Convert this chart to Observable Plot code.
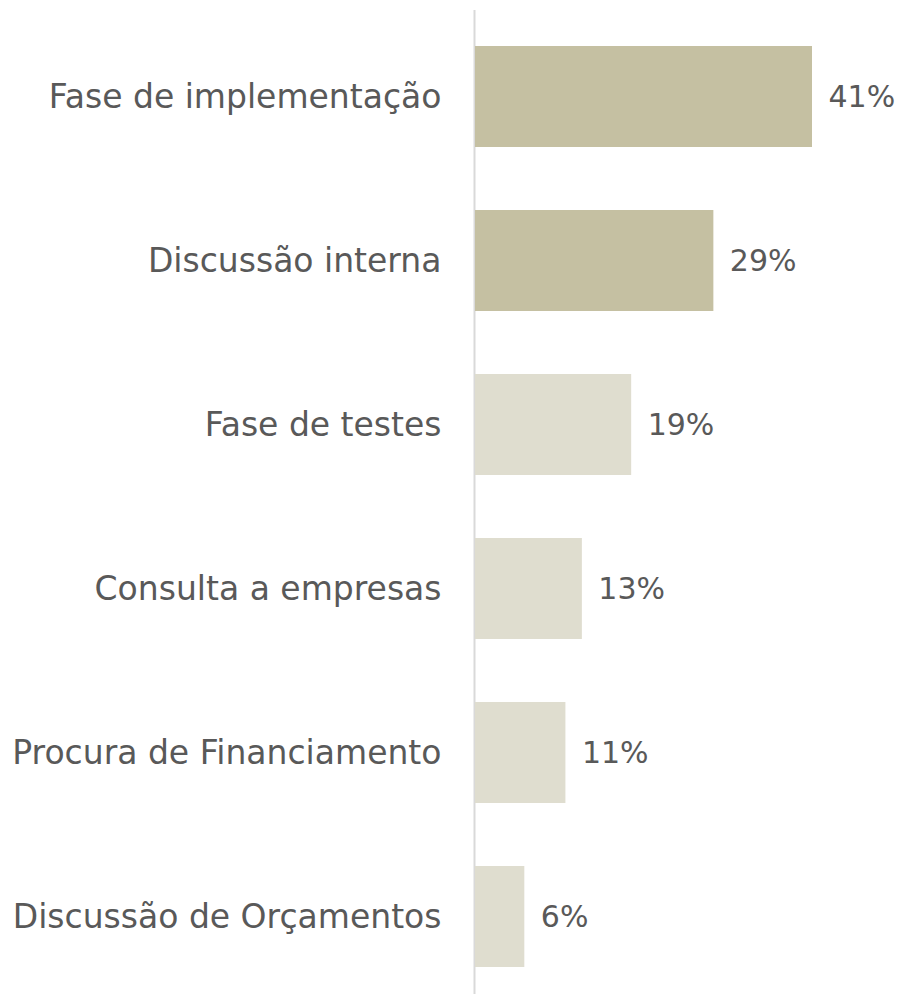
<!DOCTYPE html>
<html>
<head>
<meta charset="utf-8">
<script src="https://cdn.jsdelivr.net/npm/d3@7"></script>
<script src="https://cdn.jsdelivr.net/npm/@observablehq/plot@0.6"></script>
<style>
  html, body { margin: 0; padding: 0; background: #ffffff; }
  #chart svg { display: block; }
</style>
</head>
<body>
<div id="chart"></div>
<script>
const categories = [
  "Fase de implementação",
  "Discussão interna",
  "Fase de testes",
  "Consulta a empresas",
  "Procura de Financiamento",
  "Discussão de Orçamentos"
];
const values = [41, 29, 19, 13, 11, 6];
const labels = ["41%", "29%", "19%", "13%", "11%", "6%"];
const highlight = [true, true, false, false, false, false];

const data = categories.map((c, i) => ({category: c, value: values[i], label: labels[i], hi: highlight[i]}));

const FONT = "DejaVu Sans, sans-serif";
const TEXT = "#595959";

const chart = Plot.plot({
  width: 898,
  height: 994,
  marginTop: 10,
  marginBottom: 0,
  marginLeft: 475,
  marginRight: 0,
  style: {fontFamily: FONT, background: "#ffffff"},
  x: {domain: [0, 41], range: [475, 812], axis: null},
  y: {domain: categories, range: [12.3, 1000], paddingInner: 0.385, paddingOuter: 0.1925, axis: null},
  marks: [
    Plot.ruleX([0], {x: 0, stroke: "#d9d9d9", strokeWidth: 2, dx: -1}),
    Plot.barX(data, {
      x: "value",
      y: "category",
      fill: d => d.hi ? "#c5c0a2" : "#dfddcf"
    }),
    Plot.text(data, {
      x: "value",
      y: "category",
      text: "label",
      textAnchor: "start",
      dx: 16,
      fontSize: 30,
      fill: TEXT
    }),
    Plot.text(data, {
      x: 0,
      y: "category",
      text: "category",
      textAnchor: "end",
      dx: -34,
      fontSize: 33,
      fill: TEXT
    })
  ]
});

document.getElementById("chart").appendChild(chart);
</script>
</body>
</html>
